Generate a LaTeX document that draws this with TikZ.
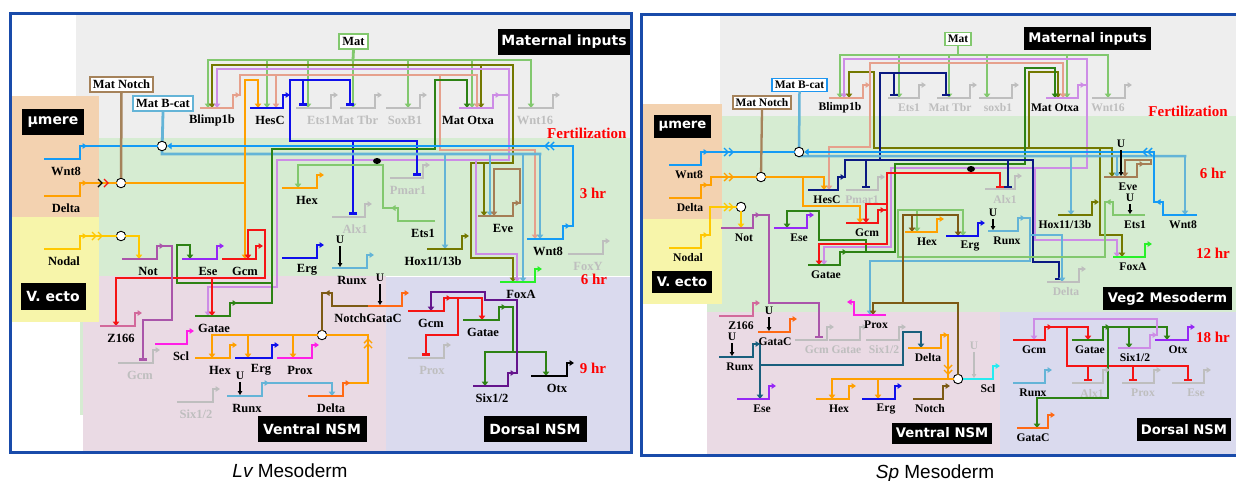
\documentclass[tikz,border=0pt]{standalone}
\usepackage{fontspec}
\setmainfont{Liberation Serif}
\newfontfamily\boxfont{DejaVu Sans}
\newfontfamily\capfont{Liberation Sans}
\usetikzlibrary{arrows.meta}

\definecolor{frameblue}{RGB}{25,75,170}
\definecolor{bggray}{RGB}{238,238,238}
\definecolor{bggreen}{RGB}{214,236,210}
\definecolor{bgpeach}{RGB}{243,210,176}
\definecolor{bgyellow}{RGB}{247,245,170}
\definecolor{bgpink}{RGB}{234,218,228}
\definecolor{bglav}{RGB}{218,218,238}
\definecolor{cmat}{RGB}{130,200,110}
\definecolor{colive}{RGB}{115,120,0}
\definecolor{cviolet}{RGB}{205,140,230}
\definecolor{csalmon}{RGB}{230,160,140}
\definecolor{cblue}{RGB}{15,15,235}
\definecolor{cnavy}{RGB}{10,25,130}
\definecolor{cwnt}{RGB}{20,155,245}
\definecolor{cbcat}{RGB}{100,180,215}
\definecolor{cbcatbox}{RGB}{30,150,240}
\definecolor{cnotchbox}{RGB}{165,130,90}
\definecolor{cnotch}{RGB}{125,90,20}
\definecolor{cbrown}{RGB}{165,125,85}
\definecolor{corange}{RGB}{255,160,0}
\definecolor{corange2}{RGB}{255,105,20}
\definecolor{cyellow}{RGB}{255,200,0}
\definecolor{cred}{RGB}{245,20,20}
\definecolor{cdkgreen}{RGB}{45,130,20}
\definecolor{cpurple}{RGB}{150,40,245}
\definecolor{cnot}{RGB}{170,85,170}
\definecolor{cmauve}{RGB}{210,105,155}
\definecolor{cmagenta}{RGB}{255,30,230}
\definecolor{cfoxa}{RGB}{40,240,40}
\definecolor{cdpurple}{RGB}{100,20,140}
\definecolor{cteal}{RGB}{25,95,125}
\definecolor{ccyan}{RGB}{40,235,240}
\definecolor{coff}{RGB}{190,190,190}

\tikzset{
    wire/.style={line width=2.8pt, line cap=rect},
    actv/.style={-{Triangle[length=4.5pt,width=6.5pt]}},
    repr/.style={-{Bar[width=8pt]}},
    gline/.style={line width=2.3pt, -{Triangle[length=4.5pt,width=5.5pt]}},
    glabel/.style={font=\bfseries\fontsize{12.5}{12.5}\selectfont, inner sep=0pt},
    regionlbl/.style={fill=black, text=white, inner sep=0pt,
        font=\boxfont\bfseries\fontsize{14}{15}\selectfont},
    mbox/.style={draw, line width=1.8pt, fill=white, inner xsep=3pt, inner ysep=1pt,
        minimum height=15pt, font=\bfseries\fontsize{12.5}{12.5}\selectfont},
    timelbl/.style={text=red, inner sep=0pt, font=\bfseries\fontsize{15}{15}\selectfont},
    junc/.style={circle, draw=black, fill=white, line width=0.9pt, inner sep=0pt, minimum size=9.5pt},
    ulbl/.style={inner sep=0pt, font=\bfseries\fontsize{11.5}{11.5}\selectfont},
    uarr/.style={line width=1.4pt, -{Triangle[length=4pt,width=4.5pt]}}
}

% gene: [label colour]{name}{left x}{right x}{y}{colour}{label x}{label}
\newcommand\glofs{12}
\newcommand{\gene}[8][black]{%
    \draw[gline,#6] (#3,#5) -- (#4,#5) -- (#4,{#5-13}) -- ({#4+7},{#5-13});
    \node[glabel,text=#1] (#2) at (#7,{#5+\glofs}) {#8};}
\newcommand{\geneL}[8][black]{%
    \draw[gline,#6] (#4,#5) -- (#3,#5) -- (#3,{#5-13}) -- ({#3-7},{#5-13});
    \node[glabel,text=#1] (#2) at (#7,{#5+\glofs}) {#8};}
\newcommand{\chev}[4]{\draw[#4,line width=1.4pt,shift={(#1,#2)},rotate=#3] (-2,-4) -- (2,0) -- (-2,4);}
\newcommand{\uin}[4][black]{%
    \node[ulbl,text=#1] at (#2,#3) {U};
    \draw[uarr,#1] (#2,{#3+6}) -- (#2,#4);}

\begin{document}
\begin{tikzpicture}[x=1pt,y=-1pt]
    \useasboundingbox (0,0) rectangle (1236,480);
    \fill[white] (0,0) rectangle (1236,480);

    % ---------- Lv panel: regions
    \fill[bggray] (76,15) rectangle (630,138);
    \fill[bggreen] (99,138) rectangle (630,276);
    \fill[bggreen] (80,322) rectangle (83,415);
    \fill[bgpink] (83,276) rectangle (386,452);
    \fill[bglav] (386,277) rectangle (630,452);
    \fill[bgpeach] (12,96) rectangle (99,217);
    \fill[bgyellow] (12,217) rectangle (99,322);
    \draw[frameblue,line width=3pt] (10.5,13.5) rectangle (631,452.5);

    % ---------- Sp panel: regions
    \fill[bggray] (720,15) rectangle (1236,116);
    \fill[bggreen] (722,116) rectangle (1236,312);
    \fill[bggreen] (707,304) rectangle (722,312);
    \fill[bgpink] (707,312) rectangle (1000,455);
    \fill[bglav] (1000,312) rectangle (1236,455);
    \fill[bgpeach] (643,104) rectangle (722,219);
    \fill[bgyellow] (643,219) rectangle (722,304);
    \draw[frameblue,line width=3pt] (641.5,14) rectangle (1240,455);

    % ---------- region labels
    \node[regionlbl,minimum width=132pt,minimum height=26pt] (lvtmat) at (564,42) {Maternal inputs};
    \node[regionlbl,minimum width=62pt,minimum height=26pt] (lvtmu) at (53,122) {µmere};
    \node[regionlbl,minimum width=65pt,minimum height=27pt] (lvtve) at (53,296) {V. ecto};
    \node[regionlbl,minimum width=109pt,minimum height=26pt] (lvtvn) at (312,429) {Ventral NSM};
    \node[regionlbl,minimum width=103pt,minimum height=26pt] (lvtdn) at (535,429) {Dorsal NSM};
    \begin{scope}[regionlbl/.append style={font=\boxfont\bfseries\fontsize{13.2}{14}\selectfont}]
        \node[regionlbl,minimum width=127pt,minimum height=23pt] (sptmat) at (1087.5,38.5) {Maternal inputs};
        \node[regionlbl,minimum width=57pt,minimum height=23pt] (sptmu) at (682.5,126.5) {µmere};
        \node[regionlbl,minimum width=60pt,minimum height=22pt] (sptve) at (682,282) {V. ecto};
        \node[regionlbl,minimum width=129pt,minimum height=23pt] (sptveg) at (1167.5,298.5) {Veg2 Mesoderm};
        \node[regionlbl,minimum width=100pt,minimum height=21pt] (sptvn) at (942,433) {Ventral NSM};
        \node[regionlbl,minimum width=94pt,minimum height=23pt] (sptdn) at (1184,429.5) {Dorsal NSM};
    \end{scope}

    % ---------- time labels
    \node[timelbl,anchor=west] at (547,133) {Fertilization};
    \node[timelbl] at (593,193) {3 hr};
    \node[timelbl] at (594,279) {6 hr};
    \node[timelbl] at (593,368) {9 hr};
    \node[timelbl] at (1188,111) {Fertilization};
    \node[timelbl] at (1213,173) {6 hr};
    \node[timelbl] at (1213,253) {12 hr};
    \node[timelbl] at (1213,337) {18 hr};

    % ---------- captions
    \node[anchor=base,inner sep=0pt,font=\capfont\fontsize{19}{19}\selectfont] (lvcap) at (290,477) {{\itshape Lv} Mesoderm};
    \node[anchor=base,inner sep=0pt,font=\capfont\fontsize{19}{19}\selectfont] (spcap) at (935,478) {{\itshape Sp} Mesoderm};

    % =================== Lv network ===================
    \node[mbox,draw=cnotchbox] (lvmn) at (121.5,84.5) {Mat Notch};
    \node[mbox,draw=cbcat] (lvbc) at (163,103.5) {Mat B-cat};
    \node[mbox,draw=cmat] (lvmat) at (353.5,41.5) {Mat};

    % maternal inputs
    \draw[wire,cmat] (lvmat.south) -- (353,60);
    \draw[wire,cmat] (208,60) -- (531,60);
    \foreach \x in {208,267,308,353,408,472,531} \draw[wire,cmat,actv] (\x,60) -- (\x,108);
    \draw[wire,colive,actv] (513,163) -- (513,65) -- (212,65) -- (212,108);
    \draw[wire,colive,actv] (481,65) -- (481,108);
    \draw[wire,colive] (513,163) -- (471,163) -- (471,258) -- (513,258);
    \draw[wire,colive,actv] (513,258) -- (513,282);
    \draw[wire,colive,actv] (484,163) -- (484,216);
    \draw[wire,cviolet] (500,95) -- (509,95);
    \draw[wire,cviolet,actv] (509,160) -- (509,69) -- (217,69) -- (217,108);
    \draw[wire,cviolet] (509,160) -- (277,160);
    \draw[wire,cviolet,actv] (277,160) -- (277,287) -- (208,287) -- (208,316);
    \draw[wire,cviolet,actv] (476,160) -- (476,254) -- (517,254) -- (517,282);
    \draw[wire,csalmon] (240,95) -- (240,75) -- (477,75);
    \draw[wire,csalmon,actv] (276,75) -- (276,108);
    \draw[wire,csalmon,actv] (477,75) -- (477,108);
    \draw[wire,csalmon,actv] (440,75) -- (440,150) -- (535,150) -- (535,239);
    \draw[wire,cblue] (290,95) -- (290,80);
    \draw[wire,cblue,repr] (290,80) -- (350,80) -- (350,106);
    \draw[wire,cblue,repr] (303,80) -- (303,106);
    \draw[wire,cblue] (290,80) -- (290,141) -- (417,141);
    \draw[wire,cblue,repr] (417,141) -- (417,176);
    \draw[wire,cblue,repr] (353,141) -- (353,215);
    \draw[wire,cbcat] (lvbc.south) -- (162,154) -- (540,154);
    \foreach \x/\y in {445/249,490/216,523/282,540/239} \draw[wire,cbcat,actv] (\x,154) -- (\x,\y);

    % green region
    \draw[wire,corange,actv] (245,80) -- (245,259);
    \draw[wire,corange,actv] (245,80) -- (258,80) -- (258,108);
    \draw[wire,cdkgreen,actv] (237,303) -- (272,303) -- (272,149) -- (435,149) -- (435,80) -- (467,80) -- (467,108);
    \draw[wire,cdkgreen,actv] (272,283) -- (177,283) -- (177,245) -- (190,245) -- (190,259);
    \draw[wire,cred,actv] (265,278) -- (265,230) -- (248,230) -- (248,259);
    \draw[wire,cred] (265,278) -- (116,278);
    \draw[wire,cred,actv] (116,278) -- (116,326);
    \draw[wire,cred,actv] (212,278) -- (212,316);
    \draw[wire,cnot,repr] (164,246) -- (172,246) -- (172,320) -- (143,320) -- (143,361);
    \draw[wire,cmat,actv] (391,208) -- (383,208) -- (383,165) -- (298,165) -- (298,188);
    \draw[wire,cbrown,actv] (520,203) -- (520,169) -- (494,169) -- (494,216);

    % junctions
    \node[junc] (lvc1) at (162,146) {};
    \node[junc] (lvc2) at (121,183) {};
    \node[junc] (lvc3) at (121,236) {};
    \node[junc] (lvc4) at (322,335) {};
    \draw[wire,cwnt] (87,146) -- (lvc1);
    \draw[wire,cwnt,actv] (570,226) -- (573,226) -- (573,146) -- (lvc1);
    \chev{547}{146}{180}{cwnt} \chev{552}{146}{180}{cwnt}
    \draw[wire,corange] (87,183) -- (lvc2);
    \draw[wire,corange] (lvc2) -- (245,183);
    \chev{100}{183}{0}{black} \chev{106}{183}{0}{cred}
    \draw[cnotchbox,line width=2.5pt] (lvmn.south) -- (lvc2);
    \draw[wire,cyellow] (87,236) -- (lvc3);
    \chev{94}{236}{0}{cyellow} \chev{100}{236}{0}{cyellow}
    \draw[wire,cyellow,actv] (lvc3) -- (139,236) -- (139,259);

    % ventral NSM
    \draw[wire,corange] (350,383) -- (368,383) -- (368,335) -- (lvc4);
    \chev{368}{341}{90}{corange} \chev{368}{346}{90}{corange}
    \draw[wire,corange] (lvc4) -- (212,335);
    \foreach \x in {212,248,293} \draw[wire,corange,actv] (\x,335) -- (\x,358);
    \draw[wire,cnotch] (325,293) -- (322,293) -- (lvc4);
    \draw[wire,cbcat,actv] (269,383) -- (332,383) -- (332,396);

    % dorsal NSM
    \draw[wire,cred,actv] (451,298) -- (482,298) -- (482,320);
    \draw[wire,cred,repr] (458,298) -- (458,335) -- (426,335) -- (426,356);
    \draw[wire,cdkgreen] (506,307) -- (513,307) -- (513,352);
    \draw[wire,cdkgreen,actv] (513,352) -- (485,352) -- (485,386);
    \draw[wire,cdkgreen,actv] (513,352) -- (546,352) -- (546,376);
    \draw[wire,cdpurple,actv] (515,373) -- (517,373) -- (517,300) -- (485,300) -- (485,292) -- (431,292) -- (431,311);

    % Lv genes
    \gene{lvblimp}{200}{233}{108}{csalmon}{212}{Blimp1b}
    \gene{lvhesc}{250}{283}{108}{cblue}{270}{HesC}
    \gene[coff]{lvetsm}{296}{331}{108}{coff}{319}{Ets1}
    \gene[coff]{lvtbr}{340}{375}{108}{coff}{355}{Mat Tbr}
    \gene[coff]{lvsoxb}{386}{420}{108}{coff}{405}{SoxB1}
    \gene{lvotxa}{459}{493}{108}{cviolet}{468}{Mat Otxa}
    \gene[coff]{lvwnt16}{518}{553}{108}{coff}{535}{Wnt16}
    \gene{lvwnt8a}{44}{80}{159}{cwnt}{66}{Wnt8}
    \gene{lvdeltaa}{44}{80}{196}{corange}{66}{Delta}
    \gene{lvnodal}{44}{80}{249}{cyellow}{64}{Nodal}
    \gene{lvnot}{122}{157}{259}{cnot}{148}{Not}
    \gene{lvese}{182}{217}{259}{cpurple}{208}{Ese}
    \gene{lvgcm}{222}{256}{259}{cred}{245}{Gcm}
    \gene{lvhex}{282}{317}{188}{corange}{307}{Hex}
    \gene{lverg}{282}{317}{258}{cblue}{307}{Erg}
    \gene{lvrunx}{332}{367}{268}{cbcat}{352}{Runx}
    \gene[coff]{lvalx}{332}{365}{217}{coff}{355}{Alx1}
    \gene[coff]{lvpmar}{390}{423}{178}{coff}{408}{Pmar1}
    \geneL{lvets}{398}{435}{221}{cmat}{423}{Ets1}
    \gene{lvhox}{427}{462}{249}{colive}{433}{Hox11/13b}
    \gene{lveve}{478}{513}{216}{cbrown}{503}{Eve}
    \gene{lvwnt8b}{527}{563}{239}{cwnt}{548}{Wnt8}
    \gene[coff]{lvfoxy}{568}{603}{254}{coff}{588}{FoxY}
    \gene{lvfoxa}{500}{535}{282}{cfoxa}{521}{FoxA}
    \gene{lvz166}{100}{135}{326}{cmauve}{121}{Z166}
    \gene[coff]{lvgcmv}{118}{153}{363}{coff}{140}{Gcm}
    \gene{lvgataev}{195}{230}{316}{cdkgreen}{214}{Gatae}
    \gene{lvscl}{155}{187}{344}{cmagenta}{181}{Scl}
    \gene{lvhexv}{195}{230}{358}{corange}{220}{Hex}
    \gene{lvergv}{235}{272}{358}{cblue}{261}{Erg}
    \gene{lvproxv}{277}{312}{358}{cmagenta}{300}{Prox}
    \gene{lvrunxv}{227}{262}{396}{cbcat}{247}{Runx}
    \gene[coff]{lvsixv}{177}{213}{402}{coff}{196}{Six1/2}
    \gene{lvdeltav}{308}{343}{396}{corange2}{331}{Delta}
    \geneL{lvnotch}{332}{368}{306}{cnotch}{368}{NotchGataC}
    \gene{lvgatac}{368}{402}{306}{corange2}{385}{}
    \gene{lvgcmd}{408}{444}{311}{cred}{431}{Gcm}
    \gene[coff]{lvproxd}{408}{444}{358}{coff}{432}{Prox}
    \gene{lvgataed}{463}{499}{320}{cdkgreen}{483}{Gatae}
    \gene{lvsixd}{473}{508}{386}{cdpurple}{492}{Six1/2}
    \gene{lvotx}{531}{567}{376}{black}{557}{Otx}
    \uin{340}{240}{267}
    \uin{380}{278}{305}
    \uin{240}{376}{395}
    \fill (377,161) ellipse (4 and 3);

    % =================== Sp network ===================
    \begin{scope}[glabel/.append style={font=\bfseries\fontsize{11.6}{11.6}\selectfont},
                  mbox/.append style={minimum height=13pt,font=\bfseries\fontsize{11.5}{11.5}\selectfont},
                  wire/.append style={line width=2.5pt}]
    \renewcommand\glofs{10}
    \node[mbox,draw=cnotchbox] (spmn) at (762,102.5) {Mat Notch};
    \node[mbox,draw=cbcatbox] (spbc) at (799.5,85) {Mat B-cat};
    \node[mbox,draw=cmat] (spmat) at (958,39) {Mat};

    % maternal inputs
    \draw[wire,cmat] (spmat.south) -- (958,55);
    \draw[wire,cmat] (840,55) -- (1108,55);
    \foreach \x in {840,899,949,987,1067,1108} \draw[wire,cmat,actv] (\x,55) -- (\x,98);
    \draw[wire,cviolet] (1085,85) -- (1087,85);
    \draw[wire,cviolet,actv] (1087,168) -- (1087,59) -- (844,59) -- (844,98);
    \draw[wire,cviolet,actv] (1087,168) -- (891,168) -- (891,247) -- (824,247) -- (824,265);
    \draw[wire,cviolet,actv] (1035,168) -- (1035,240) -- (1117,240) -- (1117,257);
    \draw[wire,colive,actv] (874,148) -- (874,72) -- (849,72) -- (849,98);
    \draw[wire,colive,actv] (874,148) -- (1112,148) -- (1112,177);
    \draw[wire,colive,actv] (1029,148) -- (1029,72) -- (1058,72) -- (1058,98);
    \draw[wire,colive,actv] (1100,148) -- (1100,235) -- (1122,235) -- (1122,257);
    \draw[wire,cdkgreen,actv] (847,252) -- (895,252) -- (895,164) -- (1025,164) -- (1025,68) -- (1055,68) -- (1055,98);
    \draw[wire,cdkgreen,actv] (866,252) -- (866,240) -- (819,240) -- (819,211) -- (787,211) -- (787,228);
    \draw[wire,csalmon] (870,85) -- (870,63) -- (1063,63);
    \draw[wire,csalmon,actv] (1063,63) -- (1063,98);
    \draw[wire,csalmon,actv] (870,85) -- (870,147) -- (829,147) -- (829,190);
    \draw[wire,cnavy] (845,177) -- (845,160) -- (1033,160);
    \draw[wire,cnavy,repr] (866,160) -- (866,188);
    \draw[wire,cnavy,repr] (1008,160) -- (1008,188);
    \draw[wire,cnavy,repr] (1033,160) -- (1033,262) -- (1059,262) -- (1059,280);
    \draw[wire,cnavy,repr] (880,160) -- (880,73) -- (946,73) -- (946,96);
    \draw[wire,cnavy,repr] (894,73) -- (894,96);
    \draw[wire,cred] (885,210) -- (887,210);
    \draw[wire,cred,actv] (887,204) -- (866,204) -- (866,223);
    \draw[wire,cred,repr] (887,244) -- (887,173) -- (1000,173) -- (1000,188);
    \draw[wire,cred,actv] (887,244) -- (819,244) -- (819,265);
    \draw[wire,cbcat] (spbc.south) -- (799,156) -- (1185,156);
    \foreach \x/\y in {1185/215,1071/215,1117/177} \draw[wire,cbcat,actv] (\x,156) -- (\x,\y);
    \draw[wire,cbcat] (1025,218) -- (1030,218) -- (1030,261) -- (870,261);
    \draw[wire,cbcat,actv] (870,261) -- (870,315);
    \draw[wire,cbcat,actv] (1030,235) -- (1062,235) -- (1062,282);
    \draw[wire,cmat,actv] (1106,202) -- (1105,202) -- (1105,257) -- (898,257) -- (898,210) -- (963,210) -- (963,236);
    \draw[wire,cmat,actv] (917,210) -- (917,232);
    \draw[wire,cbrown,actv] (1144,164) -- (1151,164) -- (1151,160) -- (1125,160) -- (1125,177);
    \draw[wire,cnot,repr] (760,215) -- (769,215) -- (769,303) -- (819,303) -- (819,338);

    % junctions
    \node[junc] (spc1) at (799,152) {};
    \node[junc] (spc2) at (761,177) {};
    \node[junc] (spc3) at (741,207) {};
    \node[junc] (spc4) at (958,379) {};
    \draw[wire,cwnt] (708,152) -- (spc1);
    \chev{726}{152}{0}{cwnt} \chev{731}{152}{0}{cwnt}
    \draw[wire,cwnt,actv] (1156,202) -- (1154,202) -- (1154,152) -- (spc1);
    \chev{1145}{152}{180}{cwnt} \chev{1150}{152}{180}{cwnt}
    \draw[wire,corange] (708,185) -- (711,185) -- (711,177) -- (spc2);
    \chev{726}{177}{0}{corange} \chev{731}{177}{0}{corange}
    \draw[wire,corange,actv] (spc2) -- (824,177) -- (824,190);
    \draw[wire,corange,actv] (803,177) -- (803,206) -- (860,206) -- (860,223);
    \draw[cnotchbox,line width=2.3pt] (spmn.south) -- (spc2);
    \draw[wire,cyellow] (708,235) -- (710,235) -- (710,207) -- (spc3);
    \chev{726}{207}{0}{cyellow} \chev{731}{207}{0}{cyellow}
    \draw[wire,cyellow,actv] (spc3) -- (741,228);

    % ventral NSM
    \draw[wire,cnotch] (spc4) -- (958,303) -- (873,303);
    \draw[wire,cnotch,actv] (873,303) -- (873,315);
    \draw[wire,cnotch,actv] (903,303) -- (903,215) -- (958,215) -- (958,236);
    \draw[wire,cnotch,actv] (912,215) -- (912,232);
    \draw[wire,cteal,actv] (760,344) -- (760,399);
    \draw[wire,cteal,actv] (760,365) -- (903,365) -- (903,332) -- (921,332) -- (921,348);
    \draw[wire,corange] (948,335) -- (948,379);
    \chev{948}{367}{-90}{corange} \chev{948}{372}{-90}{corange}
    \draw[wire,corange] (832,379) -- (spc4);
    \foreach \x in {832,878} \draw[wire,corange,actv] (\x,379) -- (\x,399);

    % dorsal NSM
    \draw[wire,cred,actv] (1052,327) -- (1088,327) -- (1088,340);
    \draw[wire,cred] (1067,327) -- (1067,366) -- (1188,366);
    \foreach \x in {1088,1133,1188} \draw[wire,cred,repr] (\x,366) -- (\x,381);
    \draw[wire,cdkgreen,actv] (1110,327) -- (1167,327) -- (1167,340);
    \draw[wire,cdkgreen,actv] (1129,327) -- (1129,348);
    \draw[wire,cdkgreen,actv] (1108,327) -- (1108,398) -- (1037,398) -- (1037,428);
    \draw[wire,cviolet,actv] (1157,335) -- (1157,319) -- (1034,319) -- (1034,340);

    % Sp genes
    \gene{spblimp}{829}{863}{98}{csalmon}{840}{Blimp1b}
    \gene[coff]{spetsm}{888}{919}{98}{coff}{909}{Ets1}
    \gene[coff]{sptbr}{937}{970}{98}{coff}{950}{Mat Tbr}
    \gene[coff]{spsoxb}{979}{1012}{98}{coff}{998}{soxb1}
    \gene{spotxa}{1046}{1078}{98}{cviolet}{1055}{Mat Otxa}
    \gene[coff]{spwnt16}{1092}{1125}{98}{coff}{1108}{Wnt16}
    \gene{spwnt8a}{669}{701}{165}{cwnt}{689}{Wnt8}
    \gene{spdeltaa}{669}{701}{198}{corange}{690}{Delta}
    \gene{spnodal}{669}{701}{248}{cyellow}{688}{Nodal}
    \gene{spnot}{721}{753}{228}{cnot}{744}{Not}
    \gene{sphesc}{808}{838}{190}{cnavy}{827}{HesC}
    \gene[coff]{sppmar}{846}{878}{190}{coff}{862}{Pmar1}
    \gene{spese}{774}{807}{228}{cpurple}{799}{Ese}
    \gene{spgcm}{846}{878}{223}{cred}{867}{Gcm}
    \gene{spgatae}{808}{840}{265}{cdkgreen}{826}{Gatae}
    \gene{sphex}{905}{937}{232}{corange}{927}{Hex}
    \gene{sperg}{946}{978}{236}{cblue}{970}{Erg}
    \gene{sprunx}{988}{1018}{231}{cbcat}{1007}{Runx}
    \gene[coff]{spalx}{985}{1015}{189}{coff}{1005}{Alx1}
    \gene{sphox}{1058}{1092}{215}{colive}{1065}{Hox11/13b}
    \gene{speve}{1104}{1137}{177}{cbrown}{1128}{Eve}
    \geneL{spets}{1113}{1145}{215}{cmat}{1135}{Ets1}
    \geneL{spwnt8b}{1163}{1197}{215}{cwnt}{1183}{Wnt8}
    \gene{spfoxa}{1113}{1145}{257}{cfoxa}{1133}{FoxA}
    \gene[coff]{spdeltag}{1047}{1079}{282}{coff}{1066}{Delta}
    \gene{spz166}{719}{753}{316}{cmauve}{741}{Z166}
    \gene{spgatacv}{758}{790}{332}{corange2}{775}{GataC}
    \gene{sprunxv}{719}{753}{357}{cteal}{740}{Runx}
    \gene{spesev}{737}{769}{399}{cpurple}{762}{Ese}
    \gene[coff]{spgcmv}{795}{827}{340}{coff}{833}{Gcm Gatae}
    \gene[coff]{spgataev}{829}{860}{340}{coff}{845}{}
    \gene[coff]{spsixv}{866}{899}{340}{coff}{884}{Six1/2}
    \geneL{spprox}{854}{886}{315}{cmagenta}{876}{Prox}
    \gene{spdeltav}{908}{941}{348}{corange}{928}{Delta}
    \gene{sphexv}{816}{849}{399}{corange}{839}{Hex}
    \gene{spergv}{862}{895}{399}{cblue}{886}{Erg}
    \gene{spnotch}{913}{943}{399}{cnotch}{930}{Notch}
    \gene{spscl}{963}{993}{379}{ccyan}{988}{Scl}
    \gene{spgcmd}{1013}{1045}{340}{cred}{1034}{Gcm}
    \gene{spgataed}{1072}{1103}{340}{cdkgreen}{1090}{Gatae}
    \gene{spsixd}{1118}{1150}{348}{cviolet}{1135}{Six1/2}
    \gene{spotx}{1155}{1188}{340}{cpurple}{1178}{Otx}
    \gene{sprunxd}{1013}{1045}{383}{cbcat}{1033}{Runx}
    \gene[coff]{spalxd}{1072}{1103}{383}{coff}{1092}{Alx1}
    \gene[coff]{spproxd}{1122}{1154}{383}{coff}{1143}{Prox}
    \gene[coff]{spesed}{1172}{1204}{383}{coff}{1196}{Ese}
    \gene{spgatacd}{1017}{1048}{428}{corange2}{1033}{GataC}
    \uin{993}{213}{230}
    \uin{1121}{144}{176}
    \uin{1130}{198}{214}
    \uin{769}{311}{331}
    \uin{732}{337}{356}
    \uin[coff]{974}{346}{378}
    \fill (971,169) ellipse (4 and 3);
    \end{scope}
\end{tikzpicture}
\end{document}
